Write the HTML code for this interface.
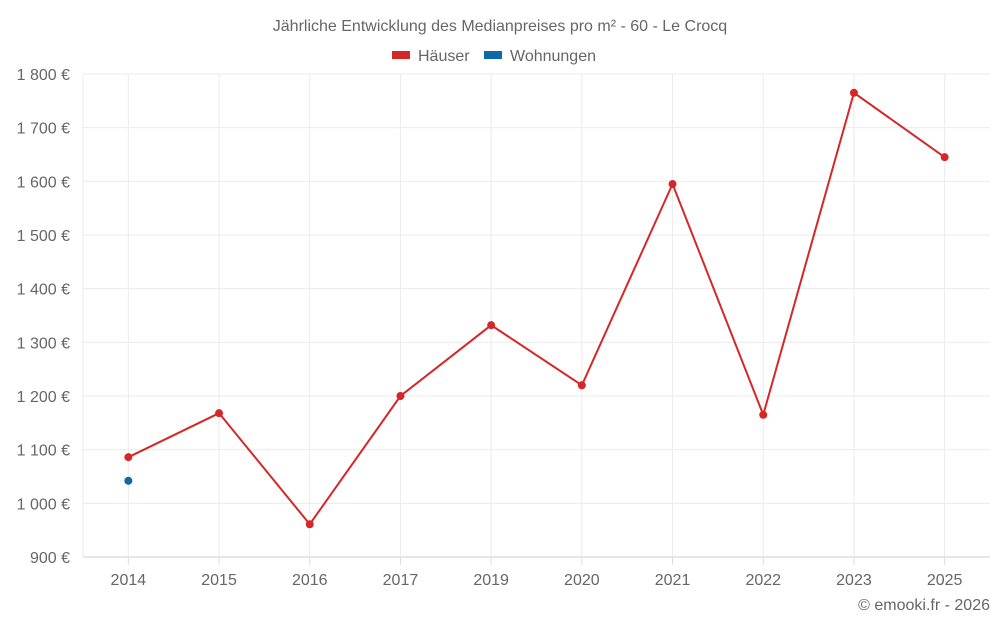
<!DOCTYPE html>
<html><head><meta charset="utf-8">
<style>
body{margin:0;background:#fff;font-family:"Liberation Sans",sans-serif;}
svg text{font-family:"Liberation Sans",sans-serif;fill:#666;}
</style></head>
<body>
<svg id="chart" width="1000" height="625" viewBox="0 0 1000 625">
<text x="500" y="31" text-anchor="middle" font-size="16">Jährliche Entwicklung des Medianpreises pro m² - 60 - Le Crocq</text>
<g>
<g><rect x="392" y="51" width="18" height="8" fill="#d62728"/><text x="418" y="61" font-size="16">Häuser</text></g>
<g><rect x="484" y="51" width="18" height="8" fill="#0e6aa6"/><text x="510" y="61" font-size="16">Wohnungen</text></g>
</g>
<g id="grid"></g>
<g id="yaxis"></g>
<g id="xaxis"></g>
<g id="series"></g>
<text x="990" y="610" text-anchor="end" font-size="16">© emooki.fr - 2026</text>
</svg>
<script>
const categories=["2014","2015","2016","2017","2019","2020","2021","2022","2023","2025"];
const haeuser=[1086,1168,961,1200,1332,1220,1595,1165,1765,1645];
const wohnungen=[1042,null,null,null,null,null,null,null,null,null];
const yTicks=[900,1000,1100,1200,1300,1400,1500,1600,1700,1800];
const yTickLabels=["900 €","1 000 €","1 100 €","1 200 €","1 300 €","1 400 €","1 500 €","1 600 €","1 700 €","1 800 €"];
const L=83,R=990,T=74,B=557,ymin=900,ymax=1800;
const ns="http://www.w3.org/2000/svg";
const band=(R-L)/categories.length;
const x=i=>L+band*(i+0.5);
const y=v=>B-(v-ymin)/(ymax-ymin)*(B-T);
function mk(t,a,p){const e=document.createElementNS(ns,t);for(const k in a)e.setAttribute(k,a[k]);p.appendChild(e);return e;}
const grid=document.getElementById('grid'),ya=document.getElementById('yaxis'),xa=document.getElementById('xaxis'),se=document.getElementById('series');
yTicks.forEach((v,i)=>{
 const l=mk('line',{x1:L,x2:R,y1:y(v),y2:y(v),stroke:i==0?'#ccc':'#ebebeb'},grid);
 
 
 const t=mk('text',{x:70,y:y(v)+6,'text-anchor':'end','font-size':16},ya);
 t.textContent=yTickLabels[i];
 
 
});
const al=mk('line',{x1:L,x2:L,y1:T,y2:B,stroke:'#ebebeb'},grid);


categories.forEach((c,i)=>{
 const g=mk('line',{x1:x(i),x2:x(i),y1:T,y2:B,stroke:'#ebebeb'},grid);
 
 
 const tk=mk('line',{x1:x(i),x2:x(i),y1:B,y2:B+8,stroke:'#ddd'},xa);
 
 
 const t=mk('text',{x:x(i),y:585,'text-anchor':'middle','font-size':16},xa);
 t.textContent=c;
 
 
});
const pts=haeuser.map((v,i)=>x(i)+','+y(v)).join(' ');
const pl=mk('polyline',{points:pts,fill:'none',stroke:'#d62728','stroke-width':2},se);


haeuser.forEach((v,i)=>{
 const c=mk('circle',{cx:x(i),cy:y(v),r:4,fill:'#d62728'},se);
 
 
});
wohnungen.forEach((v,i)=>{
 if(v==null)return;
 const c=mk('circle',{cx:x(i),cy:y(v),r:4,fill:'#0e6aa6'},se);
 
 
});
</script>
</body></html>
